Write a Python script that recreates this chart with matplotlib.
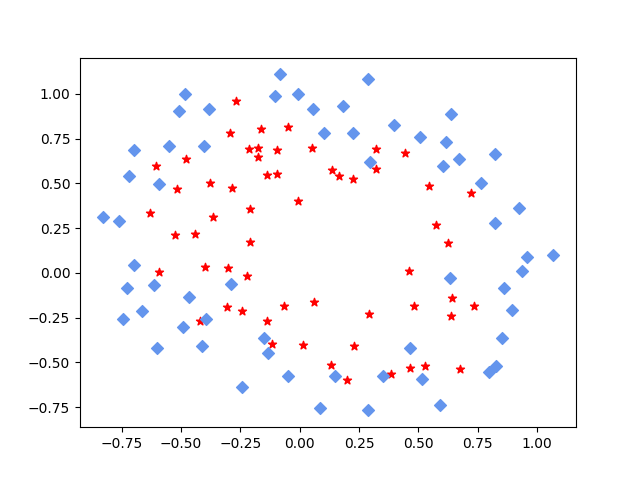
import matplotlib
matplotlib.use("Agg")
import matplotlib.pyplot as plt

# outer ring (blue diamonds)
outer_x = [-0.084, -0.484, -0.104, -0.007, -0.510, -0.383, 0.056, 0.103,
           -0.700, -0.552, -0.405, -0.721, -0.594, -0.831, -0.760,
           0.289, 0.183, 0.225, 0.398, 0.639, 0.508, 0.618, 0.673, 0.605,
           0.296, 0.825, 0.764, 0.926, 0.825,
           -0.700, -0.728, -0.615, -0.291, -0.467, -0.666, -0.746, -0.493,
           -0.396, -0.603, -0.411, -0.151, -0.134, -0.051, -0.241, 0.084,
           0.635, 0.959, 1.070, 0.938, 0.863, 0.897, 0.853, 0.466, 0.829,
           0.797, 0.148, 0.351, 0.517, 0.591, 0.289]
outer_y = [1.109, 0.997, 0.989, 0.997, 0.902, 0.918, 0.918, 0.779,
           0.684, 0.708, 0.708, 0.539, 0.494, 0.310, 0.290,
           1.086, 0.930, 0.779, 0.824, 0.885, 0.757, 0.729, 0.637, 0.595,
           0.619, 0.662, 0.500, 0.360, 0.277,
           0.042, -0.086, -0.069, -0.064, -0.136, -0.214, -0.259, -0.304,
           -0.259, -0.421, -0.410, -0.365, -0.449, -0.575, -0.638, -0.756,
           -0.030, 0.087, 0.100, 0.009, -0.086, -0.209, -0.365, -0.421, -0.520,
           -0.555, -0.577, -0.575, -0.594, -0.737, -0.769]

# inner cloud (red stars)
inner_x = [-0.269, -0.294, -0.163, -0.049, -0.214, -0.175, -0.176, -0.096,
           0.052, -0.607, -0.480, -0.138, -0.096, -0.515, -0.379, -0.286,
           -0.007, -0.633, -0.366, -0.210, -0.527, -0.442, -0.210,
           0.322, 0.136, 0.166, 0.225, 0.322, 0.445, 0.546, 0.723, 0.574, 0.626,
           -0.595, -0.400, -0.301, -0.222, -0.307, -0.241, -0.421, -0.138,
           -0.066, 0.060, -0.118, 0.014,
           0.462, 0.293, 0.483, 0.643, 0.639, 0.735, 0.229, 0.131, 0.200,
           0.386, 0.466, 0.529, 0.674]
inner_y = [0.958, 0.779, 0.803, 0.814, 0.690, 0.697, 0.647, 0.684,
           0.695, 0.595, 0.636, 0.546, 0.552, 0.466, 0.502, 0.472,
           0.401, 0.334, 0.310, 0.357, 0.211, 0.217, 0.174,
           0.690, 0.573, 0.541, 0.522, 0.578, 0.667, 0.483, 0.446, 0.266, 0.165,
           0.003, 0.033, 0.027, -0.017, -0.190, -0.213, -0.268, -0.268,
           -0.185, -0.162, -0.398, -0.402,
           0.009, -0.229, -0.185, -0.140, -0.240, -0.185, -0.408, -0.514, -0.598,
           -0.564, -0.534, -0.520, -0.536]

fig, ax = plt.subplots(figsize=(6.4, 4.8), dpi=100)
ax.scatter(inner_x, inner_y, marker="*", c="red")
ax.scatter(outer_x, outer_y, marker="D", c="cornflowerblue")
fig.savefig("out.png")
